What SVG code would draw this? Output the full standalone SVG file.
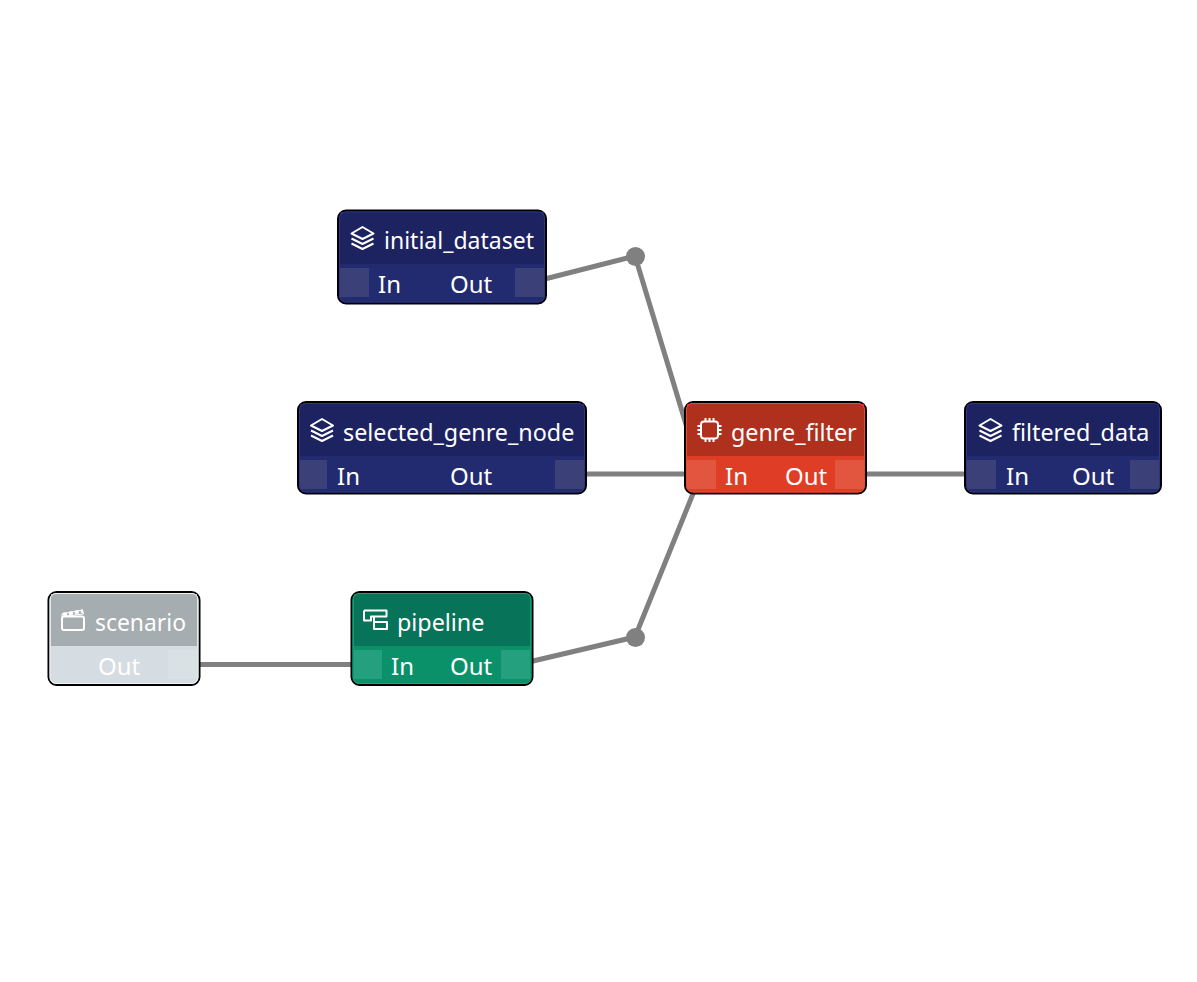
<svg xmlns="http://www.w3.org/2000/svg" width="1197" height="982" viewBox="0 0 1197 982">
<style>
text{font-family:"Noto Sans","Open Sans","Liberation Sans",sans-serif;font-size:24px;fill:#fff}
text.t{font-size:23.3px}
.o{stroke:#000;stroke-width:2}
.r{fill:none;stroke-width:1}
.c{fill:none;stroke:#808080;stroke-width:5}
.i{fill:none;stroke:#fff;stroke-width:2;stroke-linejoin:round}
.blue .o{fill:#232b70}.blue .h{fill:#1d2260}.blue .p{fill:#3b4079}.blue .r{stroke:#2b3685}
.grey .o{fill:#d5dde2}.grey .h{fill:#a6adb0}.grey .p{fill:#d9e1e4}.grey .r{stroke:#eef2f4}
.green .o{fill:#0b9169}.green .h{fill:#07745a}.green .p{fill:#25a07f}.green .r{stroke:#13a678}
.red .o{fill:#e03d27}.red .h{fill:#b0301e}.red .p{fill:#e2563f}.red .r{stroke:#ef4a30}
</style>
<defs>
<g id="layers" class="i"><path d="M12 1 23 7.5 12 13 1 7.5Z"/><path d="M1 12.5 12 18 23 12.5"/><path d="M1 17.500 12 23 23 17.500"/></g>
<g id="chip" class="i"><rect x="3.5" y="3.5" width="17" height="17" rx="3"/><path d="M8 0V3M12 0V3M16 0V3M8 21V24M12 21V24M16 21V24M0 8H3M0 12H3M0 16H3M21 8H24M21 12H24M21 16H24"/></g>
<g id="clap" class="i"><rect x="1" y="8.500" width="22" height="13.500" rx="2"/><path d="M1 8.500V6L21.500 2 22.500 6 1 8.500" stroke-width="1"/><path d="M2 6.500 22 3" stroke-width="3.500" stroke-dasharray="4 2"/></g>
<g id="tree" class="i"><path d="M1 1.500H23.500V7.500H11V20H24V13H11M11 7.500H8V11.500H1V1.500"/></g>
</defs>
<g id="connectors">
<path class="c" d="M529 283 635 256 701 474"/>
<path class="c" d="M570 474H701"/>
<path class="c" d="M516 665 635 637 701 474"/>
<path class="c" d="M183 664.500H367"/>
<path class="c" d="M850 474H981"/>
<circle cx="635.500" cy="256.500" r="9.500" fill="#808080"/>
<circle cx="635.500" cy="637.500" r="9.500" fill="#808080"/>
</g>
<g id="initial_dataset" class="blue">
<rect class="o" x="338" y="210.500" width="208" height="93" rx="8"/>
<rect class="h" x="340" y="212" width="204" height="52"/>
<rect class="p" x="340" y="268" width="29" height="29"/>
<rect class="p" x="515" y="268" width="29" height="29"/>
<rect class="r" x="339.500" y="212" width="205" height="90" rx="6"/>
<use href="#layers" x="350.500" y="226"/>
<text class="t" x="384" y="249" textLength="150" lengthAdjust="spacingAndGlyphs">initial_dataset</text>
<text x="378" y="293">In</text>
<text x="450" y="293">Out</text>
</g>
<g id="selected_genre_node" class="blue">
<rect class="o" x="298" y="402" width="288" height="91.500" rx="8"/>
<rect class="h" x="300" y="404" width="284" height="52"/>
<rect class="p" x="300" y="460" width="27" height="29"/>
<rect class="p" x="555" y="460" width="29" height="29"/>
<rect class="r" x="299.500" y="403.500" width="285" height="88.500" rx="6"/>
<use href="#layers" x="310" y="418"/>
<text class="t" x="343" y="441">selected_genre_node</text>
<text x="337" y="485">In</text>
<text x="450" y="485">Out</text>
</g>
<g id="genre_filter" class="red">
<rect class="o" x="685" y="402" width="181" height="91.500" rx="8"/>
<rect class="h" x="687" y="404" width="177" height="52"/>
<rect class="p" x="687" y="460" width="29" height="29"/>
<rect class="p" x="835" y="460" width="29" height="29"/>
<rect class="r" x="686.500" y="403.500" width="178" height="88.500" rx="6"/>
<use href="#chip" x="697.500" y="418"/>
<text class="t" x="731" y="441">genre_filter</text>
<text x="725" y="485">In</text>
<text x="785" y="485">Out</text>
</g>
<g id="filtered_data" class="blue">
<rect class="o" x="965" y="402" width="196" height="91.500" rx="8"/>
<rect class="h" x="967" y="404" width="192" height="52"/>
<rect class="p" x="967" y="460" width="29" height="29"/>
<rect class="p" x="1130" y="460" width="29" height="29"/>
<rect class="r" x="966.500" y="403.500" width="193" height="88.500" rx="6"/>
<use href="#layers" x="978.500" y="418"/>
<text class="t" x="1012" y="441">filtered_data</text>
<text x="1006" y="485">In</text>
<text x="1072" y="485">Out</text>
</g>
<g id="scenario" class="grey">
<rect class="o" x="48.500" y="592" width="151" height="93" rx="8"/>
<rect class="h" x="51" y="594" width="146" height="52"/>
<rect class="p" x="168" y="650" width="29" height="29"/>
<rect class="r" x="50" y="593.500" width="148" height="90" rx="6"/>
<use href="#clap" x="61" y="608"/>
<text class="t" x="95" y="631" textLength="91" lengthAdjust="spacingAndGlyphs">scenario</text>
<text x="98" y="675">Out</text>
</g>
<g id="pipeline" class="green">
<rect class="o" x="351.500" y="592" width="181" height="93" rx="8"/>
<rect class="h" x="354" y="594" width="176" height="52"/>
<rect class="p" x="354" y="650" width="28" height="29"/>
<rect class="p" x="501" y="650" width="29" height="29"/>
<rect class="r" x="353" y="593.500" width="178" height="90" rx="6"/>
<use href="#tree" x="363" y="609"/>
<text class="t" x="397" y="631">pipeline</text>
<text x="391" y="675">In</text>
<text x="450" y="675">Out</text>
</g>
</svg>
